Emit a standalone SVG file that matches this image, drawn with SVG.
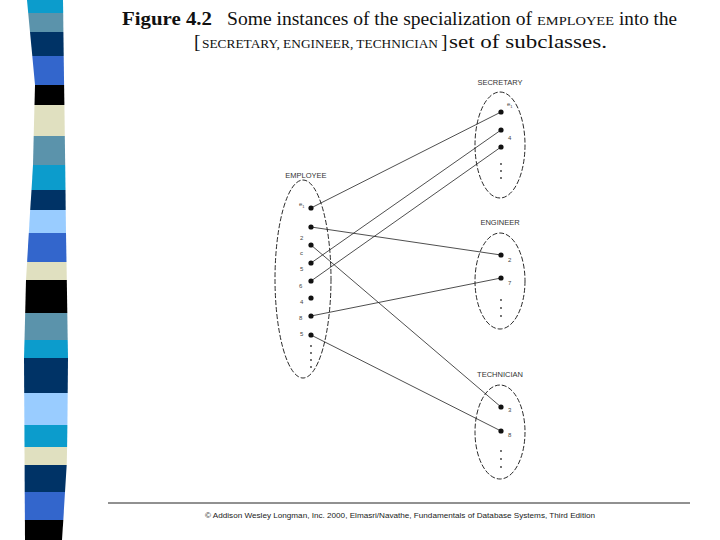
<svg xmlns="http://www.w3.org/2000/svg" width="720" height="540" viewBox="0 0 720 540">
<style>
.t{font-family:"Liberation Serif","Times New Roman",serif;fill:#111}
.sc{font-size:13.5px}
.lab{font-family:"Liberation Sans",Arial,sans-serif;font-size:7.5px;fill:#333}
.el{font-family:"Liberation Sans",Arial,sans-serif;font-size:6px;fill:#444}
.ell{fill:none;stroke:#111;stroke-width:0.9;stroke-dasharray:5 2}
.dot{fill:#111}
.vd{fill:#333}
.con line{stroke:#222;stroke-width:0.8}
.foot{font-family:"Liberation Sans",Arial,sans-serif;font-size:8px;fill:#222}
</style>
<rect width="720" height="540" fill="#fff"/>
<g id="strip">
<polygon fill="#0c9ccc" points="27,0 63,0 63.2,13 28.2,13"/>
<polygon fill="#5b93ab" points="28.2,13 63.2,13 63.4,32 30,32"/>
<polygon fill="#003366" points="30,32 63.4,32 63.7,56 32.3,56"/>
<polygon fill="#3366cc" points="32.3,56 63.7,56 64.1,85 35,85"/>
<polygon fill="#000" points="35,85 64.1,85 64.4,105 34.5,105"/>
<polygon fill="#e0e0c0" points="34.5,105 64.4,105 64.8,136 33.7,136"/>
<polygon fill="#5b93ab" points="33.7,136 64.8,136 65.2,165 33,165"/>
<polygon fill="#0c9ccc" points="33,165 65.2,165 65.5,190 31.5,190"/>
<polygon fill="#003366" points="31.5,190 65.5,190 65.7,210 30.2,210"/>
<polygon fill="#99ccff" points="30.2,210 65.7,210 66,233 28.8,233"/>
<polygon fill="#3366cc" points="28.8,233 66,233 66.5,262 27.1,262"/>
<polygon fill="#e0e0c0" points="27.1,262 66.5,262 66.8,280 26,280"/>
<polygon fill="#000" points="26,280 66.8,280 67.3,313 25.2,313"/>
<polygon fill="#5b93ab" points="25.2,313 67.3,313 67.7,340 24.5,340"/>
<polygon fill="#0c9ccc" points="24.5,340 67.7,340 68,358 24,358"/>
<polygon fill="#003366" points="24,358 68,358 67.7,393 24.2,393"/>
<polygon fill="#99ccff" points="24.2,393 67.7,393 67.4,425 24.4,425"/>
<polygon fill="#0c9ccc" points="24.4,425 67.4,425 67.1,447 24.5,447"/>
<polygon fill="#e0e0c0" points="24.5,447 67.1,447 66.7,465 24.6,465"/>
<polygon fill="#003366" points="24.6,465 66.7,465 65,492 24.7,492"/>
<polygon fill="#3366cc" points="24.7,492 65,492 63.3,520 24.9,520"/>
<polygon fill="#000" points="24.9,520 63.3,520 62,540 25,540"/>
</g>
<g id="title">
<text class="t" x="122" y="25" font-size="19.5" font-weight="bold" textLength="90" lengthAdjust="spacingAndGlyphs">Figure 4.2</text>
<text class="t" x="227" y="25" font-size="19.5" textLength="305" lengthAdjust="spacingAndGlyphs">Some instances of the specialization of</text>
<text class="t sc" x="537" y="25" textLength="77" lengthAdjust="spacingAndGlyphs">EMPLOYEE</text>
<text class="t" x="619" y="25" font-size="19.5" textLength="58" lengthAdjust="spacingAndGlyphs">into the</text>
<text class="t" x="194" y="48" font-size="19.5">[</text>
<text class="t sc" x="202" y="48" textLength="236" lengthAdjust="spacingAndGlyphs">SECRETARY, ENGINEER, TECHNICIAN</text>
<text class="t" x="441" y="48" font-size="19.5">]</text>
<text class="t" x="449" y="48" font-size="19.5" textLength="158" lengthAdjust="spacingAndGlyphs">set of subclasses.</text>
</g>
<g class="con" id="connectors">
<line x1="311" y1="208" x2="501" y2="112"/>
<line x1="311" y1="227" x2="501" y2="255"/>
<line x1="311" y1="245" x2="501" y2="407"/>
<line x1="311" y1="263" x2="501" y2="130"/>
<line x1="311" y1="281" x2="501" y2="147"/>
<line x1="311" y1="316" x2="501" y2="278"/>
<line x1="311" y1="335" x2="501" y2="431"/>
</g>
<g id="employee">
<text class="lab" x="306" y="178" text-anchor="middle">EMPLOYEE</text>
<ellipse class="ell" cx="303" cy="279" rx="28" ry="99"/>
<circle class="dot" cx="311" cy="208" r="2.6"/>
<circle class="dot" cx="311" cy="227" r="2.6"/>
<circle class="dot" cx="311" cy="245" r="2.6"/>
<circle class="dot" cx="311" cy="263" r="2.6"/>
<circle class="dot" cx="311" cy="281" r="2.6"/>
<circle class="dot" cx="311" cy="298" r="2.6"/>
<circle class="dot" cx="311" cy="316" r="2.6"/>
<circle class="dot" cx="311" cy="335" r="2.6"/>
<text class="el" x="299" y="206">e<tspan font-size="4" dy="1.5">1</tspan></text>
<text class="el" x="300" y="240">2</text>
<text class="el" x="300" y="255">c</text>
<text class="el" x="300" y="271">5</text>
<text class="el" x="299" y="288">6</text>
<text class="el" x="300" y="304">4</text>
<text class="el" x="299" y="320">8</text>
<text class="el" x="300" y="336">5</text>
<circle class="vd" cx="311" cy="346" r="0.9"/>
<circle class="vd" cx="311" cy="353" r="0.9"/>
<circle class="vd" cx="311" cy="360" r="0.9"/>
<circle class="vd" cx="311" cy="367" r="0.9"/>
</g>
<g id="secretary">
<text class="lab" x="500" y="85" text-anchor="middle">SECRETARY</text>
<ellipse class="ell" cx="500" cy="145" rx="25" ry="53"/>
<circle class="dot" cx="501" cy="112" r="2.6"/>
<circle class="dot" cx="501" cy="130" r="2.6"/>
<circle class="dot" cx="501" cy="147" r="2.6"/>
<text class="el" x="507" y="106">e<tspan font-size="4" dy="1.5">1</tspan></text>
<text class="el" x="508" y="140">4</text>
<circle class="vd" cx="501" cy="164" r="0.9"/>
<circle class="vd" cx="501" cy="171" r="0.9"/>
<circle class="vd" cx="501" cy="178" r="0.9"/>
</g>
<g id="engineer">
<text class="lab" x="500" y="225" text-anchor="middle">ENGINEER</text>
<ellipse class="ell" cx="500" cy="281" rx="25" ry="48"/>
<circle class="dot" cx="501" cy="255" r="2.6"/>
<circle class="dot" cx="501" cy="278" r="2.6"/>
<text class="el" x="508" y="262">2</text>
<text class="el" x="508" y="285">7</text>
<circle class="vd" cx="501" cy="300" r="0.9"/>
<circle class="vd" cx="501" cy="308" r="0.9"/>
<circle class="vd" cx="501" cy="316" r="0.9"/>
</g>
<g id="technician">
<text class="lab" x="500" y="377" text-anchor="middle">TECHNICIAN</text>
<ellipse class="ell" cx="500" cy="432" rx="25" ry="47"/>
<circle class="dot" cx="501" cy="407" r="2.6"/>
<circle class="dot" cx="501" cy="431" r="2.6"/>
<text class="el" x="508" y="412">3</text>
<text class="el" x="508" y="437">8</text>
<circle class="vd" cx="501" cy="451" r="0.9"/>
<circle class="vd" cx="501" cy="459" r="0.9"/>
<circle class="vd" cx="501" cy="467" r="0.9"/>
</g>
<g id="footer">
<line x1="108" y1="503" x2="690" y2="503" stroke="#222" stroke-width="1"/>
<text class="foot" x="205" y="518" textLength="390" lengthAdjust="spacingAndGlyphs">© Addison Wesley Longman, Inc. 2000, Elmasri/Navathe, Fundamentals of Database Systems, Third Edition</text>
</g>
</svg>
